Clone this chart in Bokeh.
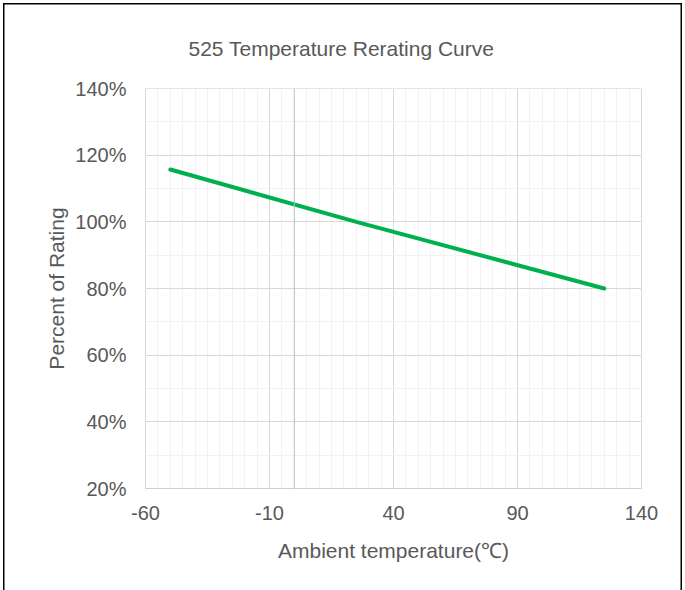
from bokeh.plotting import figure
from bokeh.models import FixedTicker, NumeralTickFormatter, Span, Range1d
from bokeh.embed import file_html
from bokeh.resources import INLINE

# ---- data ----
title_text = "525 Temperature Rerating Curve"
x_label = "Ambient temperature(\u2103)"
y_label = "Percent of Rating"
temperature = [-50, 25, 125]
percent_rating = [1.157, 1.00, 0.80]
x_major_ticks = [-60, -10, 40, 90, 140]
x_minor_ticks = list(range(-60, 141, 5))
y_major_ticks = [0.2, 0.4, 0.6, 0.8, 1.0, 1.2, 1.4]
y_minor_ticks = [0.2 + 0.1 * i for i in range(13)]

FONT = "Liberation Sans"
TXT = "#595959"

p = figure(width=685, height=590, output_backend="svg", toolbar_location=None,
           x_range=Range1d(-60, 140), y_range=Range1d(0.2, 1.4),
           min_border_left=145, min_border_right=44, min_border_top=88, min_border_bottom=102,
           title=title_text)
p.title.align = "left"
p.title.offset = 43
p.title.standoff = 58
p.title.vertical_align = "bottom"
p.title.text_font = FONT
p.title.text_font_size = "21px"
p.title.text_font_style = "normal"
p.title.text_color = TXT

p.background_fill_color = "white"
p.border_fill_color = None
p.outline_line_color = "#d9d9d9"
p.styles = {"box-shadow": ("inset 3px 3px 0 0 #ffffff, inset -3px 0 0 0 #ffffff, "
                           "inset 4.5px 4.5px 0 0 #000000, inset -4.5px 0 0 0 #000000"),
            "background-color": "white"}

# grids
p.xaxis.ticker = FixedTicker(ticks=x_major_ticks, minor_ticks=x_minor_ticks)
p.yaxis.ticker = FixedTicker(ticks=y_major_ticks, minor_ticks=y_minor_ticks)
p.xgrid.ticker = p.xaxis[0].ticker
p.ygrid.ticker = p.yaxis[0].ticker
for g in (p.xgrid, p.ygrid):
    g.grid_line_color = "#d9d9d9"
    g.grid_line_width = 1
    g.minor_grid_line_color = "#f2f2f2"
    g.minor_grid_line_width = 1

p.xaxis.formatter = NumeralTickFormatter(format="0")
p.yaxis.formatter = NumeralTickFormatter(format="0%")

for ax in (p.xaxis, p.yaxis):
    ax.major_tick_line_color = None
    ax.minor_tick_line_color = None
    ax.major_tick_out = 0
    ax.major_tick_in = 0
    ax.minor_tick_out = 0
    ax.minor_tick_in = 0
    ax.major_label_text_font = FONT
    ax.major_label_text_font_size = "20px"
    ax.major_label_text_color = TXT
    ax.axis_label_text_font = FONT
    ax.axis_label_text_font_size = "21px"
    ax.axis_label_text_color = TXT
    ax.axis_label_text_font_style = "normal"

p.xaxis.axis_line_color = "#d0d0d0"
p.yaxis.axis_line_color = None
p.xaxis.major_label_standoff = 17
p.yaxis.major_label_standoff = 19
p.xaxis.axis_label = x_label
p.yaxis.axis_label = y_label
p.xaxis.axis_label_standoff = 16
p.yaxis.axis_label_standoff = 4

# vertical axis crossing at 0
p.add_layout(Span(location=0, dimension="height", line_color="#bfbfbf", line_width=1))

p.line(temperature, percent_rating, line_color="#00B050", line_width=4, line_cap="round")

open("out.html", "w").write(file_html(p, INLINE))
